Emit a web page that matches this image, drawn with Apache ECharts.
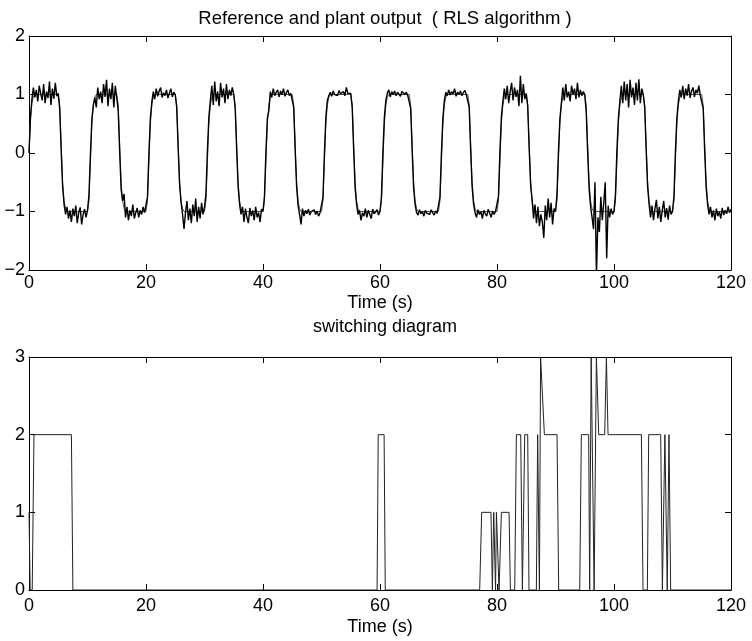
<!DOCTYPE html>
<html>
<head>
<meta charset="utf-8">
<script src="https://cdn.jsdelivr.net/npm/echarts@6/dist/echarts.min.js"></script>
<style>
  html, body { margin: 0; padding: 0; background: #fff; }
  #main { width: 752px; height: 641px; }
</style>
</head>
<body>
<div id="main"></div>
<script type="text/javascript">

    var sampleStep = 0.25;
    var plantOutput = [
        0.00, 0.62, 0.92, 1.12, 0.95, 1.08, 0.88, 1.15, 1.02, 0.90, 1.18, 0.85, 1.05, 0.94, 1.22, 0.82, 1.10, 0.93, 1.20, 0.97,
        1.02, 0.75, 0.05, -0.58, -0.88, -1.05, -0.92, -1.12, -0.98, -1.18, -0.95, -1.08, -0.90, -1.20, -1.02, -0.93, -1.22, -1.05, -0.96, -1.10,
        -0.98, -0.72, -0.02, 0.58, 0.82, 0.95, 0.78, 1.12, 0.92, 1.05, 0.85, 1.18, 0.96, 1.25, 0.80, 1.10, 0.92, 1.20, 0.78, 1.15,
        0.95, 0.72, 0.02, -0.62, -0.82, -0.70, -1.10, -0.92, -1.15, -0.98, -1.08, -0.88, -1.12, -1.02, -0.94, -1.10, -0.98, -1.05, -0.92, -1.02,
        -1.00, -0.75, 0.00, 0.60, 0.88, 1.05, 0.92, 1.10, 0.97, 1.06, 1.12, 0.95, 1.03, 0.98, 1.08, 0.94, 1.02, 1.10, 0.96, 1.04,
        1.00, 0.78, 0.08, -0.55, -0.85, -1.05, -1.30, -1.02, -0.82, -1.15, -0.95, -1.20, -0.88, -1.08, -0.78, -1.18, -0.92, -1.12, -0.85, -1.05,
        -0.92, -0.70, 0.05, 0.62, 0.90, 1.15, 0.82, 1.22, 0.88, 1.05, 0.80, 1.20, 0.95, 1.10, 0.85, 1.18, 0.92, 1.08, 0.98, 1.12,
        1.00, 0.76, 0.06, -0.58, -0.88, -1.05, -0.92, -1.18, -0.95, -1.10, -1.20, -0.94, -1.08, -0.98, -1.15, -0.92, -1.10, -1.02, -1.18, -0.96,
        -1.00, -0.74, 0.02, 0.60, 0.72, 1.05, 0.95, 1.10, 0.98, 1.04, 1.08, 0.96, 1.06, 1.00, 1.10, 0.97, 1.03, 1.08, 0.98, 1.02,
        1.00, 0.78, 0.05, -0.58, -0.90, -1.05, -1.22, -0.95, -1.08, -0.98, -1.04, -0.96, -1.06, -1.00, -1.03, -0.97, -1.05, -0.99, -1.08, -1.02,
        -1.00, -0.76, 0.00, 0.62, 0.90, 0.98, 1.04, 0.97, 1.06, 1.00, 1.03, 0.98, 1.07, 1.01, 0.99, 1.05, 0.98, 1.12, 1.02, 1.00,
        1.02, 0.78, 0.05, -0.60, -0.88, -1.05, -0.98, -1.15, -1.02, -1.08, -0.95, -1.10, -0.98, -1.05, -1.12, -0.96, -1.04, -1.02, -0.97, -1.06,
        -1.00, -0.75, 0.02, 0.62, 0.90, 1.02, 1.08, 0.96, 1.05, 1.00, 1.06, 0.98, 1.04, 1.01, 0.97, 1.05, 1.02, 1.00, 1.04, 0.98,
        1.00, 0.76, 0.03, -0.60, -0.88, -1.02, -1.06, -0.97, -1.04, -1.00, -1.08, -0.98, -1.03, -1.00, -1.05, -0.97, -1.02, -1.06, -0.99, -1.03,
        -1.00, -0.75, 0.00, 0.60, 0.90, 1.04, 0.98, 1.08, 0.99, 1.05, 1.01, 1.10, 0.97, 1.04, 1.00, 1.06, 0.98, 1.03, 1.07, 1.00,
        1.00, 0.78, 0.04, -0.58, -0.88, -1.02, -1.10, -0.97, -1.05, -1.00, -1.12, -0.98, -1.04, -1.08, -0.96, -1.03, -1.10, -0.99, -1.05, -1.00,
        -0.98, -0.74, 0.03, 0.62, 0.88, 1.10, 0.92, 1.15, 0.85, 1.05, 1.20, 0.90, 1.12, 0.96, 1.08, 0.80, 1.32, 0.85, 1.18, 0.92,
        1.02, 0.80, 0.08, -0.55, -0.80, -1.12, -0.88, -1.20, -0.92, -1.25, -1.05, -1.18, -1.45, -0.90, -1.15, -0.78, -1.10, -0.85, -1.22, -0.95,
        -1.00, -0.72, 0.02, 0.58, 0.85, 1.12, 0.90, 1.18, 0.95, 1.05, 0.88, 1.15, 1.00, 1.10, 0.92, 1.20, 0.95, 1.08, 0.98, 1.05,
        1.00, 0.70, 0.00, -0.62, -0.92, -1.10, -1.30, -0.50, -2.10, -1.10, -1.35, -0.75, -1.15, -0.85, -0.50, -1.80, -0.90, -1.10, -0.95, -1.05,
        -1.00, -0.70, 0.05, 0.60, 0.88, 1.15, 0.85, 1.22, 0.90, 1.18, 0.78, 1.25, 0.95, 1.12, 0.82, 1.20, 0.90, 1.26, 0.85, 1.10,
        1.00, 0.78, 0.05, -0.58, -0.88, -1.10, -0.90, -1.15, -0.95, -0.80, -1.12, -0.92, -1.18, -0.98, -0.82, -1.10, -0.94, -1.14, -0.90, -1.05,
        -1.00, -0.74, 0.03, 0.60, 0.88, 1.08, 0.95, 1.15, 0.92, 1.10, 0.98, 1.18, 0.94, 1.06, 1.12, 0.96, 1.08, 1.02, 1.15, 0.98,
        1.00, 0.76, 0.04, -0.58, -0.88, -1.05, -0.92, -1.10, -0.98, -1.15, -0.95, -1.08, -1.00, -1.12, -0.94, -1.06, -0.98, -1.04, -0.92, -1.02,
        -0.96
    ];

    // reference trajectory, [time, value]
    var referencePoints = [
        [0,0],[0.25,0.55],[0.5,0.85],[0.75,0.96],[1,1],
        [5,1],[5.25,0.82],[5.5,0.15],[5.75,-0.5],[6,-0.82],[6.25,-0.95],[6.5,-1],
        [10,-1],[10.25,-0.82],[10.5,-0.15],[10.75,0.5],[11,0.82],[11.25,0.95],[11.5,1],
        [15,1],[15.25,0.82],[15.5,0.15],[15.75,-0.5],[16,-0.82],[16.25,-0.95],[16.5,-1],
        [20,-1],[20.25,-0.82],[20.5,-0.15],[20.75,0.5],[21,0.82],[21.25,0.95],[21.5,1],
        [25,1],[25.25,0.82],[25.5,0.15],[25.75,-0.5],[26,-0.82],[26.25,-0.95],[26.5,-1],
        [30,-1],[30.25,-0.82],[30.5,-0.15],[30.75,0.5],[31,0.82],[31.25,0.95],[31.5,1],
        [35,1],[35.25,0.82],[35.5,0.15],[35.75,-0.5],[36,-0.82],[36.25,-0.95],[36.5,-1],
        [40,-1],[40.25,-0.82],[40.5,-0.15],[40.75,0.5],[41,0.82],[41.25,0.95],[41.5,1],
        [45,1],[45.25,0.82],[45.5,0.15],[45.75,-0.5],[46,-0.82],[46.25,-0.95],[46.5,-1],
        [50,-1],[50.25,-0.82],[50.5,-0.15],[50.75,0.5],[51,0.82],[51.25,0.95],[51.5,1],
        [55,1],[55.25,0.82],[55.5,0.15],[55.75,-0.5],[56,-0.82],[56.25,-0.95],[56.5,-1],
        [60,-1],[60.25,-0.82],[60.5,-0.15],[60.75,0.5],[61,0.82],[61.25,0.95],[61.5,1],
        [65,1],[65.25,0.82],[65.5,0.15],[65.75,-0.5],[66,-0.82],[66.25,-0.95],[66.5,-1],
        [70,-1],[70.25,-0.82],[70.5,-0.15],[70.75,0.5],[71,0.82],[71.25,0.95],[71.5,1],
        [75,1],[75.25,0.82],[75.5,0.15],[75.75,-0.5],[76,-0.82],[76.25,-0.95],[76.5,-1],
        [80,-1],[80.25,-0.82],[80.5,-0.15],[80.75,0.5],[81,0.82],[81.25,0.95],[81.5,1],
        [85,1],[85.25,0.82],[85.5,0.15],[85.75,-0.5],[86,-0.82],[86.25,-0.95],[86.5,-1],
        [90,-1],[90.25,-0.82],[90.5,-0.15],[90.75,0.5],[91,0.82],[91.25,0.95],[91.5,1],
        [95,1],[95.25,0.82],[95.5,0.15],[95.75,-0.5],[96,-0.82],[96.25,-0.95],[96.5,-1],
        [100,-1],[100.25,-0.82],[100.5,-0.15],[100.75,0.5],[101,0.82],[101.25,0.95],[101.5,1],
        [105,1],[105.25,0.82],[105.5,0.15],[105.75,-0.5],[106,-0.82],[106.25,-0.95],[106.5,-1],
        [110,-1],[110.25,-0.82],[110.5,-0.15],[110.75,0.5],[111,0.82],[111.25,0.95],[111.5,1],
        [115,1],[115.25,0.82],[115.5,0.15],[115.75,-0.5],[116,-0.82],[116.25,-0.95],[116.5,-1],
        [120,-1]
    ];

    // switching diagram: active model index over time
    var switchTime = [
        0, 0.2, 0.55, 0.85, 7.25, 7.5,
        59.5, 59.7, 60.7, 60.9,
        77.04, 77.38, 78.97, 79.21, 79.44, 79.6, 79.75, 79.9, 80.1, 80.35, 80.55, 80.75, 82.06, 82.29,
        83.03, 83.31, 84.05, 84.34, 84.57, 84.74, 85.25, 85.47,
        86.73, 86.95, 87.1, 87.25, 87.45, 87.75, 88.1, 90.26, 90.55,
        94.14, 94.42, 95.67, 95.84, 96.1, 96.35, 96.6, 96.99, 97.16, 97.39, 98.41, 98.7, 98.98,
        104.68, 104.96, 105.7, 105.93, 107.98, 108.27, 108.5, 108.7, 108.9, 109.1, 109.25, 109.4, 109.5, 109.69,
        120
    ];
    var switchValue = [
        1, 0, 0, 2, 2, 0,
        0, 2, 2, 0,
        0, 1, 1, 0, 1, 1, 0, 1, 1, 0, 0, 1, 1, 0,
        0, 2, 2, 0, 0, 2, 2, 0,
        0, 2, 2, 0, 3, 3, 2, 2, 0,
        0, 2, 2, 0, 3, 3, 0, 3, 3, 2, 2, 3, 2,
        2, 0, 0, 2, 2, 0, 0, 2, 2, 0, 0, 2, 2, 0,
        0
    ];

    var xTicks = { min: 0, max: 120, interval: 20 };
    var fontName = 'Liberation Sans';

    function minusSign(v) {
        return String(v).replace('-', '\u2212');
    }

    function xAxisOf(grid, pos, withLabel, labelMargin, gap) {
        return {
            gridIndex: grid,
            type: 'value',
            position: pos,
            min: xTicks.min, max: xTicks.max, interval: xTicks.interval,
            axisLine: { onZero: false, lineStyle: { color: '#000', width: 1 } },
            axisTick: { inside: true, length: 6, lineStyle: { color: '#000' } },
            axisLabel: { show: withLabel, color: '#000', fontSize: 18, fontFamily: fontName, margin: labelMargin },
            splitLine: { show: false },
            name: withLabel ? 'Time (s)' : '',
            nameLocation: 'middle',
            nameGap: gap,
            nameTextStyle: { color: '#000', fontSize: 18, fontFamily: fontName }
        };
    }

    function yAxisOf(grid, pos, withLabel, lo, hi) {
        return {
            gridIndex: grid,
            type: 'value',
            position: pos,
            min: lo, max: hi, interval: 1,
            axisLine: { onZero: false, lineStyle: { color: '#000', width: 1 } },
            axisTick: { inside: true, length: 6, lineStyle: { color: '#000' } },
            axisLabel: { show: withLabel, color: '#000', fontSize: 18, fontFamily: fontName, margin: 4, formatter: minusSign },
            splitLine: { show: false }
        };
    }

    var chart = echarts.init(document.getElementById('main'));
    chart.setOption({
        animation: false,
        backgroundColor: '#fff',
        title: [
            {
                text: 'Reference and plant output  ( RLS algorithm )',
                left: 380, top: 4, textAlign: 'center',
                textStyle: { color: '#000', fontSize: 18.5, fontWeight: 'normal', fontFamily: fontName }
            },
            {
                text: 'switching diagram',
                left: 380, top: 313, textAlign: 'center',
                textStyle: { color: '#000', fontSize: 18, fontWeight: 'normal', fontFamily: fontName }
            }
        ],
        grid: [
            { left: 29, top: 36, width: 702, height: 234 },
            { left: 29, top: 357, width: 702, height: 233 }
        ],
        xAxis: [
            xAxisOf(0, 'bottom', true, 4, 24),
            xAxisOf(0, 'top', false, 4, 24),
            xAxisOf(1, 'bottom', true, 7, 28),
            xAxisOf(1, 'top', false, 7, 28)
        ],
        yAxis: [
            yAxisOf(0, 'left', true, -2, 2),
            yAxisOf(0, 'right', false, -2, 2),
            yAxisOf(1, 'left', true, 0, 3),
            yAxisOf(1, 'right', false, 0, 3)
        ],
        series: [
            {
                name: 'reference',
                type: 'line',
                xAxisIndex: 0, yAxisIndex: 0,
                data: referencePoints,
                showSymbol: false, symbol: 'none',
                lineStyle: { color: '#555', width: 1 },
                z: 2
            },
            {
                name: 'plant output',
                type: 'line',
                xAxisIndex: 0, yAxisIndex: 0,
                data: plantOutput.map(function (v, i) { return [i * sampleStep, v]; }),
                showSymbol: false, symbol: 'none',
                lineStyle: { color: '#000', width: 1.4 },
                z: 3
            },
            {
                name: 'switching',
                type: 'line',
                xAxisIndex: 2, yAxisIndex: 2,
                data: switchTime.map(function (t, i) { return [t, switchValue[i]]; }),
                showSymbol: false, symbol: 'none',
                lineStyle: { color: '#222', width: 1 },
                z: 3
            }
        ]
    });
</script>
</body>
</html>
